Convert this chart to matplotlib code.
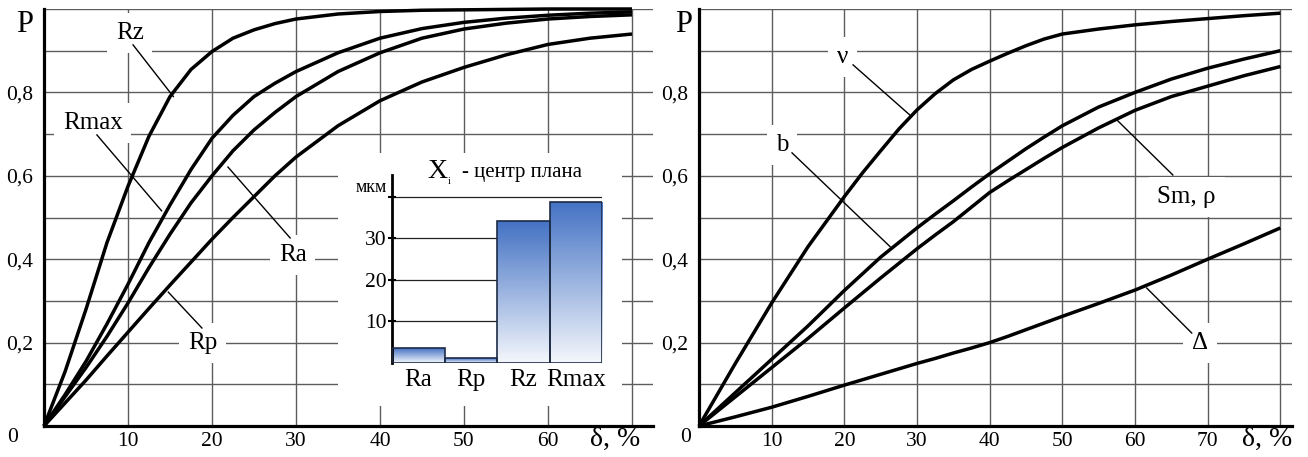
import numpy as np
import matplotlib
matplotlib.use('Agg')
import matplotlib.pyplot as plt
from matplotlib.patches import Rectangle
from matplotlib.colors import LinearSegmentedColormap

plt.rcParams['font.family'] = ['Liberation Serif', 'DejaVu Serif']

# ---- left panel: P(delta) for roughness parameters ----
d_left = [0, 2.5, 5, 7.5, 10, 12.5, 15, 17.5, 20, 22.5, 25, 27.5, 30, 35, 40, 45, 50, 55, 60, 65, 70]
p_rz = [0, 0.13, 0.28, 0.44, 0.575, 0.695, 0.79, 0.855, 0.898, 0.93, 0.95, 0.965, 0.976, 0.988,
        0.994, 0.997, 0.998, 0.999, 1.0, 1.0, 1.0]
p_rmax = [0, 0.075, 0.155, 0.245, 0.34, 0.44, 0.53, 0.615, 0.69, 0.745, 0.79, 0.822, 0.85, 0.895,
          0.93, 0.953, 0.968, 0.978, 0.985, 0.99, 0.993]
p_ra = [0, 0.07, 0.14, 0.215, 0.295, 0.38, 0.46, 0.535, 0.6, 0.66, 0.71, 0.752, 0.79, 0.85,
        0.895, 0.93, 0.952, 0.966, 0.976, 0.982, 0.986]
p_rp = [0, 0.055, 0.11, 0.168, 0.225, 0.282, 0.338, 0.393, 0.448, 0.5, 0.55, 0.6, 0.645, 0.72,
        0.78, 0.825, 0.86, 0.89, 0.915, 0.93, 0.94]

# ---- right panel ----
d_right = [0, 5, 10, 15, 20, 22.5, 25, 27.5, 30, 32.5, 35, 37.5, 40, 42.5, 45, 47.5, 50,
           55, 60, 65, 70, 75, 80]
p_nu = [0, 0.15, 0.295, 0.43, 0.55, 0.607, 0.66, 0.712, 0.758, 0.797, 0.83, 0.855, 0.875,
        0.894, 0.912, 0.928, 0.94, 0.952, 0.962, 0.97, 0.977, 0.984, 0.99]
p_b = [0, 0.08, 0.16, 0.24, 0.325, 0.365, 0.405, 0.44, 0.475, 0.508, 0.54, 0.573, 0.605,
       0.635, 0.665, 0.693, 0.72, 0.765, 0.80, 0.832, 0.858, 0.88, 0.90]
p_sm = [0, 0.07, 0.14, 0.21, 0.283, 0.319, 0.355, 0.39, 0.425, 0.458, 0.49, 0.525, 0.56,
        0.588, 0.615, 0.642, 0.668, 0.715, 0.757, 0.79, 0.815, 0.84, 0.862]
p_delta = [0, 0.022, 0.045, 0.071, 0.098, 0.111, 0.124, 0.137, 0.15, 0.162, 0.175, 0.187, 0.2,
           0.215, 0.231, 0.247, 0.263, 0.294, 0.326, 0.362, 0.40, 0.437, 0.475]

# ---- inset: X_i - centre of plan ----
inset_cats = ['Ra', 'Rp', 'Rz', 'Rmax']
inset_vals = [3.6, 1.2, 34.2, 38.8]

W, H = 1308, 457
fig = plt.figure(figsize=(W / 100, H / 100), dpi=100)


def fx(px):
    return px / W


def fy(py):
    return 1 - py / H


GRID = '#5c5c5c'
TICK = 15.5


def setup(ax, xmax, labeled, extra):
    ax.set_xlim(0, xmax)
    ax.set_ylim(0, 1.0)
    ax.set_axisbelow(True)
    for s in ['top', 'right']:
        ax.spines[s].set_visible(False)
    for s in ['left', 'bottom']:
        ax.spines[s].set_linewidth(2.3)
    ax.set_xticks(labeled)
    ax.set_xticklabels([str(t) for t in labeled])
    ax.set_xticks(extra, minor=True)
    ax.set_yticks([0.2, 0.4, 0.6, 0.8])
    ax.set_yticklabels(['0,2', '0,4', '0,6', '0,8'])
    ax.set_yticks([0.1, 0.3, 0.5, 0.7, 0.9, 1.0], minor=True)
    ax.grid(True, which='both', color=GRID, lw=1.0)
    ax.tick_params(which='both', length=0)
    ax.tick_params(axis='y', pad=8, labelsize=TICK)
    ax.tick_params(axis='x', pad=4, labelsize=TICK)


def label(ax, x, y, s, size=18):
    ax.text(x, y, s, fontsize=size, ha='center', va='center', zorder=3,
            bbox=dict(boxstyle='square,pad=0.35', facecolor='white', edgecolor='none'))


def leader(ax, x0, y0, x1, y1):
    ax.plot([x0, x1], [y0, y1], color='black', lw=1.0, zorder=4)


# left axes
axL = fig.add_axes([fx(44), fy(426), fx(653) - fx(44), fy(9) - fy(426)])
setup(axL, 72.5, [10, 20, 30, 40, 50, 60], [70])
axL.add_patch(Rectangle((35, 0.048), 33.8, 0.607, facecolor='white', edgecolor='none', zorder=1))
for ys in [p_rz, p_rmax, p_ra, p_rp]:
    axL.plot(d_left, ys, color='black', lw=2.5, zorder=2, clip_on=False, solid_capstyle='butt')
label(axL, 10.2, 0.942, 'Rz')
label(axL, 5.8, 0.727, 'Rmax')
label(axL, 29.6, 0.41, 'Ra')
label(axL, 18.9, 0.199, 'Rp')
leader(axL, 10.6, 0.914, 15.4, 0.79)
leader(axL, 6.3, 0.698, 14.0, 0.516)
leader(axL, 21.9, 0.621, 29.3, 0.451)
leader(axL, 14.8, 0.321, 18.8, 0.235)

# right axes
axR = fig.add_axes([fx(699), fy(426), fx(1292) - fx(699), fy(9) - fy(426)])
setup(axR, 81.6, [10, 20, 30, 40, 50, 60, 70], [80])
for ys in [p_nu, p_b, p_sm, p_delta]:
    axR.plot(d_right, ys, color='black', lw=2.5, zorder=2, clip_on=False, solid_capstyle='butt')
label(axR, 19.8, 0.885, 'ν')
label(axR, 11.4, 0.674, 'b')
label(axR, 67.1, 0.549, 'Sm, ρ')
label(axR, 68.9, 0.199, 'Δ')
leader(axR, 21.2, 0.866, 29.0, 0.746)
leader(axR, 12.8, 0.655, 26.3, 0.43)
leader(axR, 57.5, 0.734, 65.2, 0.602)
leader(axR, 61.6, 0.331, 67.8, 0.223)

# corner texts
for px in [25, 684]:
    fig.text(fx(px), fy(24), 'P', fontsize=22, ha='center', va='center')
for px in [615, 1267]:
    fig.text(fx(px), fy(439), 'δ, %', fontsize=20, ha='center', va='center')
for px in [13, 686]:
    fig.text(fx(px), fy(437), '0', fontsize=TICK, ha='center', va='center')

# inset bar chart
axI = fig.add_axes([fx(392), fy(363), fx(602) - fx(392), fy(175) - fy(363)])
axI.patch.set_alpha(0)
cmap = LinearSegmentedColormap.from_list('bl', ['#f4f7fc', '#4472c4'])
grad = np.linspace(0, 1, 200).reshape(-1, 1)
for yv in [10, 20, 30, 40]:
    axI.axhline(yv, color='#222222', lw=0.9, zorder=0)
bars = axI.bar(range(len(inset_cats)), inset_vals, width=1.0, facecolor='none',
               edgecolor='#1d2b45', lw=1.2, zorder=3)
for i, r in enumerate(bars):
    im = axI.imshow(grad, extent=[i - 0.5, i + 0.5, 0, inset_vals[i]], origin='lower',
                    cmap=cmap, aspect='auto', zorder=2)
    im.set_clip_path(r)
axI.set_xlim(-0.5, 3.5)
axI.set_ylim(0, 45.3)
for s in ['top', 'right', 'bottom']:
    axI.spines[s].set_visible(False)
axI.spines['left'].set_linewidth(2.0)
axI.set_yticks([10, 20, 30, 40])
axI.set_yticklabels(['10', '20', '30', ''])
axI.tick_params(axis='y', direction='inout', length=6, width=1.5, labelsize=TICK, pad=1)
axI.set_xticks(range(len(inset_cats)))
axI.set_xticklabels(inset_cats)
axI.tick_params(axis='x', length=0, labelsize=18, pad=4)
fig.text(fx(387), fy(188), 'мкм', fontsize=13, ha='right', va='center')
fig.text(fx(437), fy(172), 'X', fontsize=20, ha='center', va='center')
fig.text(fx(449), fy(182), 'i', fontsize=7, ha='center', va='center')
fig.text(fx(462), fy(172), '- центр плана', fontsize=15, ha='left', va='center')

fig.savefig('out.png', dpi=100)
